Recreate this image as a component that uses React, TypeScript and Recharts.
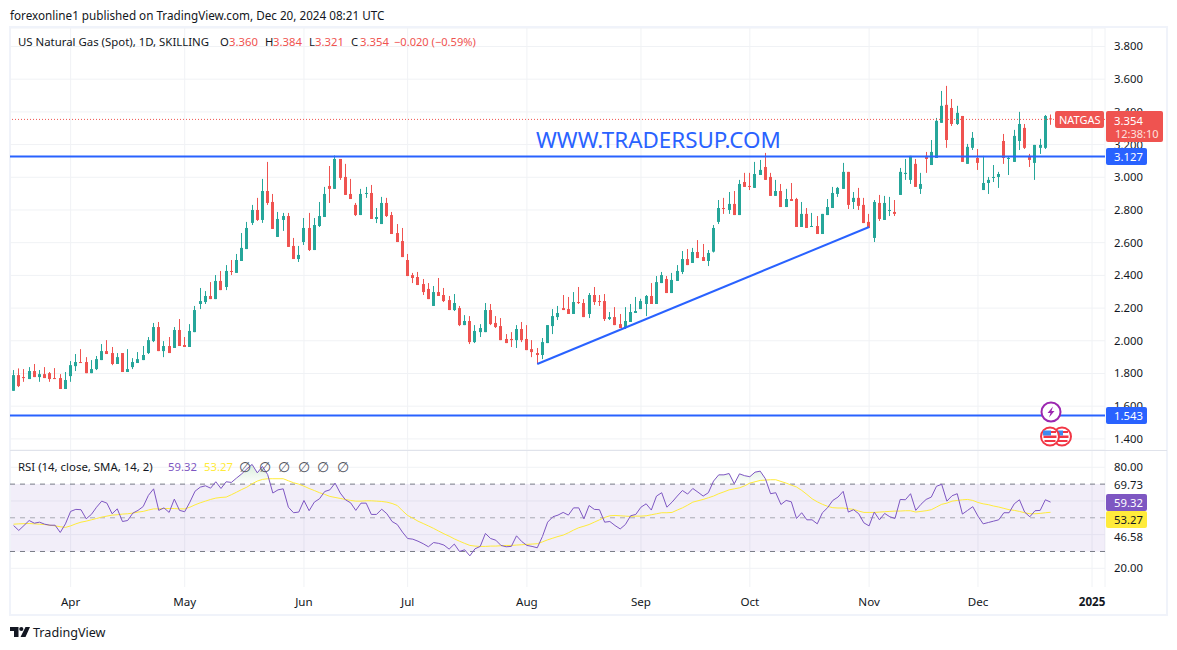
import React from "react";
import { ComposedChart, Bar, Line, Area, XAxis, YAxis, CartesianGrid, ReferenceLine, ReferenceArea } from "recharts";

const FONT = '"Noto Sans", sans-serif';
const TEXT = "#131722";
const UP = "#26a69a";
const DOWN = "#ef5350";
const BLUE = "#2962ff";
const GRID = "#f0f2f5";
const NUM = 11.3;

const opens = [
1.694,1.790,1.778,1.766,1.815,1.778,1.796,1.802,1.772,1.772,
1.705,1.784,1.845,1.870,1.870,1.802,1.827,1.882,1.937,1.925,
1.858,1.925,1.809,1.839,1.864,1.882,1.925,1.998,2.084,1.937,
1.968,1.956,2.066,1.974,1.962,2.053,2.225,2.237,2.274,2.255,
2.366,2.329,2.427,2.415,2.488,2.561,2.721,2.800,2.739,2.916,
2.849,2.635,2.739,2.763,2.580,2.500,2.604,2.690,2.555,2.702,
2.757,2.947,2.929,3.112,3.002,2.898,2.831,2.769,2.898,2.904,
2.745,2.714,2.843,2.769,2.659,2.610,2.494,2.402,2.390,2.347,
2.317,2.213,2.298,2.280,2.249,2.188,2.200,2.096,2.121,1.992,
2.053,2.053,2.188,2.109,2.090,2.011,2.011,2.004,2.072,2.011,
1.949,1.925,1.913,1.986,2.090,2.145,2.200,2.194,2.164,2.237,
2.231,2.164,2.280,2.243,2.243,2.133,2.145,2.102,2.078,2.115,
2.170,2.194,2.225,2.274,2.225,2.353,2.378,2.292,2.366,2.421,
2.500,2.476,2.543,2.512,2.488,2.545,2.727,2.812,2.800,2.837,
2.769,2.971,2.947,2.935,3.014,3.063,3.002,2.886,2.916,2.818,
2.867,2.867,2.696,2.776,2.696,2.702,2.653,2.769,2.812,2.898,
2.929,3.033,2.849,2.874,2.831,2.727,2.629,2.843,2.739,2.794,
2.788,2.892,3.020,2.984,3.082,2.929,3.131,3.075,3.118,3.333,
3.443,3.424,3.326,3.375,3.082,3.180,3.118,2.922,2.965,2.996,
3.002,3.222,3.112,3.094,3.222,3.302,3.131,3.088,3.180,3.180,
3.360];

const highs = [
1.821,1.831,1.827,1.839,1.858,1.821,1.839,1.809,1.833,1.796,
1.809,1.876,1.919,1.949,1.900,1.882,1.907,1.980,2.004,1.962,
1.925,1.925,1.949,1.894,1.931,1.968,2.023,2.109,2.115,1.998,
2.023,2.084,2.133,2.023,2.102,2.213,2.323,2.304,2.359,2.402,
2.427,2.463,2.494,2.531,2.659,2.727,2.831,2.874,2.990,3.094,
2.898,2.788,2.782,2.782,2.629,2.580,2.751,2.782,2.751,2.849,
2.941,3.069,3.133,3.112,3.082,2.990,2.843,2.929,2.941,2.953,
2.812,2.880,2.874,2.788,2.714,2.690,2.531,2.415,2.421,2.378,
2.353,2.335,2.384,2.323,2.274,2.286,2.213,2.157,2.151,2.096,
2.102,2.231,2.225,2.151,2.139,2.041,2.053,2.096,2.115,2.096,
2.004,1.956,2.017,2.096,2.194,2.213,2.280,2.268,2.298,2.329,
2.255,2.292,2.329,2.280,2.286,2.176,2.206,2.164,2.206,2.225,
2.268,2.257,2.280,2.353,2.396,2.421,2.396,2.415,2.463,2.549,
2.561,2.568,2.616,2.592,2.555,2.708,2.861,2.874,2.910,2.916,
2.984,3.027,3.027,3.094,3.106,3.149,3.027,2.984,2.959,2.929,
2.965,2.874,2.849,2.812,2.782,2.763,2.776,2.867,2.941,2.941,
3.088,3.033,2.910,2.935,2.874,2.776,2.861,2.892,2.886,2.880,
2.861,3.057,3.112,3.131,3.112,3.027,3.155,3.228,3.363,3.528,
3.559,3.479,3.437,3.375,3.204,3.277,3.173,3.131,3.002,3.075,
3.033,3.265,3.124,3.290,3.400,3.326,3.143,3.198,3.235,3.381,
3.384];

const lows = [
1.694,1.717,1.749,1.766,1.778,1.749,1.772,1.749,1.766,1.705,
1.705,1.749,1.815,1.864,1.802,1.802,1.821,1.882,1.919,1.851,
1.858,1.809,1.809,1.827,1.864,1.882,1.919,1.992,1.937,1.900,
1.925,1.956,1.968,1.962,1.962,2.053,2.194,2.225,2.255,2.255,
2.310,2.310,2.402,2.415,2.488,2.561,2.708,2.733,2.721,2.831,
2.684,2.635,2.672,2.574,2.500,2.482,2.586,2.549,2.555,2.696,
2.757,2.843,2.929,2.984,2.892,2.867,2.763,2.769,2.874,2.745,
2.720,2.714,2.757,2.653,2.604,2.512,2.396,2.353,2.341,2.280,
2.255,2.213,2.274,2.237,2.188,2.182,2.090,2.096,1.980,1.986,
2.023,2.053,2.096,2.078,2.004,1.986,1.962,1.956,1.992,1.943,
1.900,1.858,1.888,1.986,2.041,2.127,2.188,2.164,2.164,2.225,
2.145,2.139,2.219,2.213,2.121,2.127,2.096,2.078,2.072,2.115,
2.170,2.194,2.151,2.225,2.225,2.353,2.292,2.292,2.366,2.408,
2.463,2.476,2.506,2.488,2.457,2.540,2.714,2.776,2.776,2.769,
2.769,2.941,2.922,2.935,3.014,2.984,2.886,2.886,2.818,2.818,
2.855,2.696,2.696,2.690,2.696,2.653,2.653,2.769,2.812,2.880,
2.929,2.806,2.806,2.800,2.720,2.690,2.604,2.733,2.739,2.763,
2.763,2.892,2.984,2.959,2.941,2.898,3.027,3.075,3.118,3.333,
3.180,3.314,3.320,3.094,3.082,3.167,3.045,2.922,2.898,2.971,
2.935,3.082,3.014,3.094,3.167,3.173,3.063,2.984,3.143,3.173,
3.321];

const closes = [
1.790,1.723,1.774,1.815,1.778,1.796,1.772,1.766,1.766,1.705,
1.760,1.851,1.870,1.864,1.802,1.827,1.888,1.937,1.919,1.858,
1.900,1.809,1.827,1.870,1.888,1.913,2.004,2.084,1.937,1.968,
1.925,2.066,1.968,1.962,2.060,2.188,2.243,2.274,2.255,2.366,
2.310,2.427,2.421,2.494,2.568,2.690,2.800,2.739,2.916,2.843,
2.684,2.745,2.763,2.574,2.500,2.525,2.690,2.555,2.708,2.763,
2.898,2.929,3.112,2.996,2.892,2.867,2.769,2.898,2.904,2.745,
2.757,2.843,2.763,2.653,2.604,2.512,2.396,2.384,2.341,2.298,
2.255,2.298,2.274,2.243,2.188,2.231,2.096,2.121,1.992,2.060,
2.078,2.188,2.102,2.084,2.004,1.986,2.004,2.072,2.004,1.943,
1.931,1.913,1.992,2.096,2.151,2.170,2.188,2.164,2.237,2.231,
2.145,2.280,2.237,2.237,2.133,2.145,2.096,2.078,2.121,2.176,
2.182,2.243,2.274,2.225,2.359,2.402,2.292,2.372,2.427,2.500,
2.463,2.543,2.506,2.488,2.537,2.690,2.812,2.806,2.837,2.769,
2.959,2.941,2.941,3.020,3.045,2.984,2.886,2.916,2.818,2.867,
2.855,2.696,2.776,2.690,2.702,2.653,2.776,2.818,2.904,2.935,
3.033,2.831,2.874,2.825,2.720,2.690,2.849,2.745,2.843,2.800,
2.776,3.033,3.027,3.131,2.941,2.959,3.112,3.155,3.345,3.437,
3.228,3.326,3.394,3.094,3.186,3.241,3.088,2.965,2.984,3.002,
3.020,3.118,3.118,3.253,3.326,3.180,3.106,3.198,3.198,3.375,
3.354];

const rsiValues = [
45.4,42.5,45.4,48.4,46.8,47.4,46.2,45.6,45.6,41.3,
46.4,53.8,55.0,54.8,49.4,52.0,56.3,59.9,58.7,52.4,
55.3,47.8,48.4,52.8,54.4,56.7,63.3,67.2,54.4,55.9,
53.2,61.1,54.4,53.6,59.3,65.8,68.2,69.0,67.6,71.4,
67.4,71.4,71.0,73.6,76.1,79.1,81.7,76.7,80.5,75.7,
64.7,66.6,67.2,56.3,53.0,53.4,60.3,54.2,59.3,61.3,
65.6,66.6,70.6,64.7,60.7,58.9,54.4,58.7,58.7,52.0,
52.0,55.1,52.4,47.8,46.0,41.5,37.7,37.3,36.1,34.6,
32.8,35.3,34.8,33.8,31.4,34.4,30.0,31.0,27.4,31.6,
33.0,40.7,37.7,36.7,33.6,32.8,33.0,39.3,35.9,33.6,
33.0,32.2,38.9,47.4,50.6,51.6,53.2,51.6,55.9,55.9,
49.4,57.3,55.0,54.8,47.4,47.8,45.4,43.4,46.0,51.2,
52.0,56.3,58.3,54.6,62.9,64.9,56.3,59.3,62.9,66.2,
64.1,67.4,65.2,62.9,64.9,71.8,75.5,75.5,76.3,70.2,
76.1,75.0,74.4,77.1,77.7,73.2,64.3,64.9,57.9,60.3,
59.5,49.6,53.0,48.8,48.8,46.4,53.0,56.0,60.3,62.3,
65.7,53.4,54.8,52.4,47.0,45.2,53.4,48.8,52.6,50.6,
49.6,60.9,60.7,64.3,54.4,58.0,60.9,62.3,68.7,69.9,
59.9,63.1,64.3,52.2,54.4,56.6,51.0,46.4,47.2,48.0,
48.8,53.0,53.0,58.3,60.7,53.4,50.6,54.2,54.4,60.7,
59.32];

const rsiSmaValues = [
46.2,46.4,46.5,46.6,46.4,46.2,46.0,45.6,45.2,44.7,
44.3,45.2,46.4,47.4,48.0,48.8,49.6,50.4,51.0,51.6,
51.8,52.2,52.4,52.8,53.4,53.8,54.6,55.3,55.3,55.5,
55.5,55.5,55.3,55.3,56.3,57.7,58.9,59.9,60.9,61.7,
62.1,62.3,63.7,65.2,66.8,68.2,70.2,71.8,72.8,73.2,
73.2,73.2,73.2,72.0,70.8,70.0,68.8,67.4,66.2,64.9,
63.9,62.7,62.1,61.5,60.9,60.3,59.9,59.9,60.1,60.1,
59.9,59.7,59.3,58.5,57.3,54.2,51.4,49.8,48.0,46.6,
45.2,43.7,42.1,40.5,39.1,37.5,36.1,34.8,33.6,33.2,
33.0,33.0,33.2,33.2,33.4,33.6,33.6,33.8,34.0,34.2,
34.4,34.6,35.7,36.9,37.9,38.9,39.7,41.1,42.7,44.1,
45.0,46.0,47.4,48.8,50.2,51.2,51.4,51.2,51.0,50.8,
51.0,51.0,51.2,51.8,52.4,53.0,53.0,53.2,54.6,55.9,
57.5,59.3,60.1,60.9,61.9,62.9,64.3,65.4,66.6,67.2,
67.8,69.0,70.6,71.4,72.2,72.4,72.6,72.6,71.6,70.6,
69.4,68.3,66.3,63.9,61.3,59.5,58.0,56.8,56.0,55.8,
55.8,55.4,55.0,54.0,53.2,53.2,53.2,53.4,53.6,53.8,
54.0,54.0,54.2,54.2,53.4,53.8,54.2,54.8,56.4,58.0,
58.7,59.9,60.3,60.7,60.9,60.3,59.1,58.3,57.8,57.0,
56.4,55.6,54.8,54.4,53.8,53.0,52.4,52.4,52.6,53.0,
53.27];

const monthTickIndex = [11, 33, 56, 76, 99, 121, 142, 165, 186, 208];
const monthLabels = ["Apr", "May", "Jun", "Jul", "Aug", "Sep", "Oct", "Nov", "Dec", "2025"];
const priceTicks = [1.4, 1.6, 1.8, 2.0, 2.2, 2.4, 2.6, 2.8, 3.0, 3.2, 3.4, 3.6, 3.8];
const rsiTicks = [20, 69.73, 80];
const rsiGrid = [20, 40, 60, 80];
const TOTAL_SLOTS = 211;

const rows = Array.from({ length: TOTAL_SLOTS }, (_, i) =>
  i < opens.length
    ? {
        i,
        open: opens[i],
        high: highs[i],
        low: lows[i],
        close: closes[i],
        range: [lows[i], highs[i]],
        rsi: rsiValues[i],
        sma: rsiSmaValues[i],
        over: [70, Math.max(70, rsiValues[i])],
      }
    : { i }
);

const Candle = (props: any) => {
  const { x, y, width, height, payload } = props;
  if (payload == null || payload.open == null) return null;
  const { open, high, low, close } = payload;
  const span = high - low || 1;
  const at = (v: number) => y + ((high - v) / span) * height;
  const cx = Math.round(x + width / 2 - 0.5);
  const color = close >= open ? UP : DOWN;
  const top = at(Math.max(open, close));
  const bottom = at(Math.min(open, close));
  return (
    <g>
      <rect x={cx} y={y} width={1} height={Math.max(height, 1)} fill={color} />
      <rect x={cx - 1} y={top} width={3} height={Math.max(bottom - top, 1)} fill={color} />
    </g>
  );
};

const axisTick = { fill: TEXT, fontSize: NUM, fontFamily: FONT };
const xProps: any = {
  dataKey: "i",
  type: "category",
  scale: "band",
  padding: { left: 1, right: 0 },
  ticks: monthTickIndex,
  interval: 0,
};

const T = (p: any) => (
  <text fontFamily={FONT} fontSize={NUM} fill={TEXT} dominantBaseline="central" {...p} />
);

const Box = ({ x, y, w, h, fill }: any) => <rect x={x} y={y} width={w} height={h} rx={2} fill={fill} />;

const Flag = ({ cx, cy }: any) => (
  <g>
    <circle cx={cx} cy={cy} r={9} fill="#fff" stroke="#f23645" strokeWidth={2} />
    <rect x={cx - 6.5} y={cy - 1} width={13} height={2.5} fill="#f23645" />
    <rect x={cx - 5.5} y={cy + 3.5} width={11} height={2} fill="#f23645" />
    <rect x={cx - 7} y={cy - 6} width={8} height={5} fill="#3d8bf0" />
    <rect x={cx + 1} y={cy - 5.5} width={5} height={2} fill="#f23645" />
  </g>
);

export default function App() {
  return (
    <div style={{ position: "absolute", left: 0, top: 0, width: 1177, height: 650, background: "#fff", overflow: "hidden" }}>
      <div style={{ position: "absolute", left: 9, top: 26, width: 1159, height: 590, boxSizing: "border-box", border: "2px solid #f0f3fa" }} />
      <div style={{ position: "absolute", left: 10, top: 450, width: 1157, height: 1, background: "#e0e3eb" }} />

      <div style={{ position: "absolute", left: 10, top: 28 }}>
        <ComposedChart width={1157} height={422} data={rows} margin={{ top: 0, right: 0, bottom: 0, left: 0 }} barCategoryGap={0}>
          <CartesianGrid stroke={GRID} strokeWidth={1} />
          <XAxis {...xProps} hide />
          <YAxis
            orientation="right"
            width={62}
            type="number"
            domain={[1.332, 3.913]}
            allowDataOverflow
            ticks={priceTicks}
            tickFormatter={(v: number) => v.toFixed(3)}
            tick={axisTick}
            tickLine={false}
            axisLine={false}
            tickSize={0}
            tickMargin={9}
            interval={0}
          />
          <ReferenceLine y={3.354} stroke={DOWN} strokeDasharray="1 2" strokeWidth={1} />
          <ReferenceLine y={3.127} stroke={BLUE} strokeWidth={2} />
          <ReferenceLine y={1.543} stroke={BLUE} strokeWidth={2} />
          <Bar dataKey="range" barSize={3} shape={<Candle />} isAnimationActive={false} />
          <ReferenceLine
            segment={[
              { x: 101, y: 1.858 },
              { x: 165, y: 2.696 },
            ]}
            stroke={BLUE}
            strokeWidth={2}
          />
        </ComposedChart>
      </div>

      <div style={{ position: "absolute", left: 10, top: 451 }}>
        <ComposedChart width={1157} height={163} data={rows} margin={{ top: 0, right: 0, bottom: 0, left: 0 }}>
          <defs>
            <linearGradient id="obFill" x1="0" y1="0" x2="0" y2="1">
              <stop offset="0%" stopColor="#4caf50" stopOpacity={0.35} />
              <stop offset="100%" stopColor="#4caf50" stopOpacity={0} />
            </linearGradient>
          </defs>
          <CartesianGrid stroke={GRID} strokeWidth={1} horizontalValues={rsiGrid} />
          <XAxis
            {...xProps}
            height={27}
            tick={(p: any) => {
              const label = monthLabels[monthTickIndex.indexOf(p.payload.value)];
              return (
                <text
                  x={p.x}
                  y={p.y + 6}
                  textAnchor="middle"
                  dominantBaseline="central"
                  fontFamily={FONT}
                  fontSize={11.6}
                  fontWeight={label === "2025" ? 700 : 400}
                  fill={TEXT}
                >
                  {label}
                </text>
              );
            }}
            tickLine={false}
            axisLine={false}
          />
          <YAxis
            orientation="right"
            width={62}
            type="number"
            domain={[8.9, 89.67]}
            allowDataOverflow
            ticks={rsiTicks}
            tickFormatter={(v: number) => v.toFixed(2)}
            tick={axisTick}
            tickLine={false}
            axisLine={false}
            tickSize={0}
            tickMargin={9}
            interval={0}
          />
          <ReferenceArea y1={30} y2={70} fill="#7e57c2" fillOpacity={0.1} stroke="none" />
          <ReferenceLine y={70} stroke="#787b86" strokeDasharray="5 5" />
          <ReferenceLine y={50} stroke="#787b86" strokeOpacity={0.6} strokeDasharray="5 5" />
          <ReferenceLine y={30} stroke="#787b86" strokeDasharray="5 5" />
          <Area dataKey="over" stroke="none" fill="url(#obFill)" isAnimationActive={false} dot={false} activeDot={false} />
          <Line dataKey="sma" stroke="#ffeb3b" strokeWidth={1} dot={false} activeDot={false} isAnimationActive={false} />
          <Line dataKey="rsi" stroke="#7e57c2" strokeWidth={1} dot={false} activeDot={false} isAnimationActive={false} />
        </ComposedChart>
      </div>

      <svg width={1177} height={650} style={{ position: "absolute", left: 0, top: 0, pointerEvents: "none" }}>
        <T x={10} y={15} fontSize={11.7}>forexonline1 published on TradingView.com, Dec 20, 2024 08:21 UTC</T>
        <T x={18} y={41.5} fontSize={11.4}>US Natural Gas (Spot), 1D, SKILLING</T>
        <T x={220} y={41.5}>O</T>
        <T x={229} y={41.5} fill={DOWN}>3.360</T>
        <T x={265} y={41.5}>H</T>
        <T x={273} y={41.5} fill={DOWN}>3.384</T>
        <T x={309} y={41.5}>L</T>
        <T x={315} y={41.5} fill={DOWN}>3.321</T>
        <T x={351} y={41.5}>C</T>
        <T x={360} y={41.5} fill={DOWN}>3.354</T>
        <T x={394} y={41.5} fill={DOWN} fontSize={11.1}>−0.020 (−0.59%)</T>

        <T x={536} y={139} fontSize={22.4} fill={BLUE}>WWW.TRADERSUP.COM</T>

        <Box x={1055} y={111} w={49} h={17} fill={DOWN} />
        <T x={1059} y={119.5} fill="#fff" fontSize={11}>NATGAS</T>
        <Box x={1106} y={111} w={57} h={31} fill={DOWN} />
        <T x={1114} y={120} fill="#fff">3.354</T>
        <T x={1115} y={133.5} fill="#fde0df" fontSize={11}>12:38:10</T>
        <Box x={1106} y={148} w={41} h={17} fill={BLUE} />
        <T x={1114} y={156.5} fill="#fff">3.127</T>
        <Box x={1106} y={407} w={41} h={17} fill={BLUE} />
        <T x={1114} y={415.5} fill="#fff">1.543</T>

        <circle cx={1051} cy={412} r={9.5} fill="#fff" stroke="#9c27b0" strokeWidth={2} />
        <path d="M1053 406.5 L1047.5 413 L1050.5 413 L1049 417.5 L1054.5 411 L1051.5 411 Z" fill="#9c27b0" />
        <Flag cx={1062} cy={436.5} />
        <Flag cx={1050} cy={436.5} />

        <T x={18} y={466} fontSize={11.4}>RSI (14, close, SMA, 14, 2)</T>
        <T x={168} y={466} fill="#7e57c2">59.32</T>
        <T x={204} y={466} fill="#ffeb3b">53.27</T>
        {[245, 265, 284, 304, 323, 343].map((x) => (
          <T key={x} x={x} y={466} textAnchor="middle" fill="#50535e" fontSize={14}>∅</T>
        ))}

        <T x={1114} y={536.5}>46.58</T>
        <Box x={1106} y={494} w={41} h={17} fill="#7e57c2" />
        <T x={1114} y={502.5} fill="#fff">59.32</T>
        <Box x={1106} y={511} w={41} h={17} fill="#ffeb3b" />
        <T x={1114} y={519.5}>53.27</T>

        <path d="M10 627 H18.5 V637 H14 V631 H10 Z M25.5 627 H30 L25.5 637 H20.5 Z" fill={TEXT} />
        <circle cx={21.3} cy={629} r={2.1} fill={TEXT} />
        <T x={33} y={632} fontSize={12.6}>TradingView</T>
      </svg>
    </div>
  );
}
